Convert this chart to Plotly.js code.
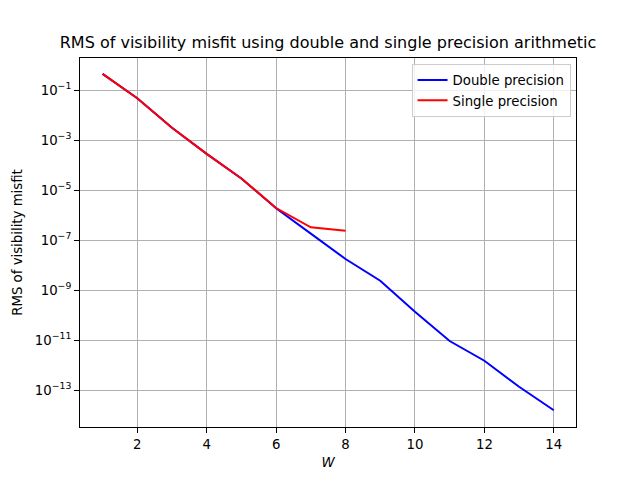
<!DOCTYPE html>
<html>
<head>
<meta charset="utf-8">
<script src="https://cdn.plot.ly/plotly-3.0.1.min.js"></script>
<style>html,body{margin:0;padding:0;background:#fff}#chart{width:640px;height:480px}</style>
</head>
<body>
<div id="chart"></div>
<script>
var wDouble = [1, 2, 3, 4, 5, 6, 7, 8, 9, 10, 11, 12, 13, 14];
var rmsDouble = [0.44, 0.047, 0.0031, 2.8e-4, 2.9e-5, 1.85e-6, 1.8e-7, 1.74e-8, 2.35e-9, 1.36e-10, 9.1e-12, 1.48e-12, 1.35e-13, 1.55e-14];
var wSingle = [1, 2, 3, 4, 5, 6, 7, 8];
var rmsSingle = [0.44, 0.047, 0.0031, 2.8e-4, 2.9e-5, 1.9e-6, 3.2e-7, 2.35e-7];
var yTickVals = [1e-1, 1e-3, 1e-5, 1e-7, 1e-9, 1e-11, 1e-13];
var yTickText = ['10<sup>\u22121</sup>', '10<sup>\u22123</sup>', '10<sup>\u22125</sup>', '10<sup>\u22127</sup>', '10<sup>\u22129</sup>', '10<sup>\u221211</sup>', '10<sup>\u221213</sup>'];
var xTickVals = [2, 4, 6, 8, 10, 12, 14];

var font = 'DejaVu Sans, sans-serif';
var traces = [
  {x: wDouble, y: rmsDouble, type: 'scatter', mode: 'lines', name: 'Double precision',
   line: {color: '#0000ff', width: 2}},
  {x: wSingle, y: rmsSingle, type: 'scatter', mode: 'lines', name: 'Single precision',
   line: {color: '#ff0000', width: 2}}
];
var layout = {
  width: 640, height: 480,
  margin: {l: 80, r: 64, t: 58, b: 53},
  paper_bgcolor: '#fff', plot_bgcolor: '#fff',
  font: {family: font, size: 13.3, color: '#000'},
  title: {text: 'RMS of visibility misfit using double and single precision arithmetic',
          font: {family: font, size: 16, color: '#000'},
          x: 0.5125, xref: 'container', xanchor: 'center', y: 1 - 42/480, yref: 'container', yanchor: 'middle'},
  xaxis: {range: [0.35, 14.64], tickvals: xTickVals, ticks: 'outside', ticklen: 5, tickcolor: '#000',
          showline: true, linecolor: '#000', linewidth: 1, mirror: true,
          showgrid: true, gridcolor: '#b0b0b0', gridwidth: 1, zeroline: false,
          tickfont: {family: font, size: 13.3, color: '#000'},
          title: {text: '<i>W</i>', font: {family: font, size: 13.3, color: '#000'}, standoff: 6}},
  yaxis: {type: 'log', range: [-14.48, 0.28], tickvals: yTickVals, ticktext: yTickText,
          ticks: 'outside', ticklen: 5, tickcolor: '#000',
          showline: true, linecolor: '#000', linewidth: 1, mirror: true,
          showgrid: true, gridcolor: '#b0b0b0', gridwidth: 1, zeroline: false,
          tickfont: {family: font, size: 13.3, color: '#000'},
          title: {text: 'RMS of visibility misfit', font: {family: font, size: 13.3, color: '#000'}, standoff: 9}},
  legend: {x: 0.989, xanchor: 'right', y: 0.984, yanchor: 'top',
           bgcolor: 'rgba(255,255,255,0.8)', bordercolor: '#cccccc', borderwidth: 1,
           font: {family: font, size: 13.3, color: '#000'}},
  showlegend: true
};
Plotly.newPlot('chart', traces, layout, {staticPlot: true, displayModeBar: false});
</script>
</body>
</html>
